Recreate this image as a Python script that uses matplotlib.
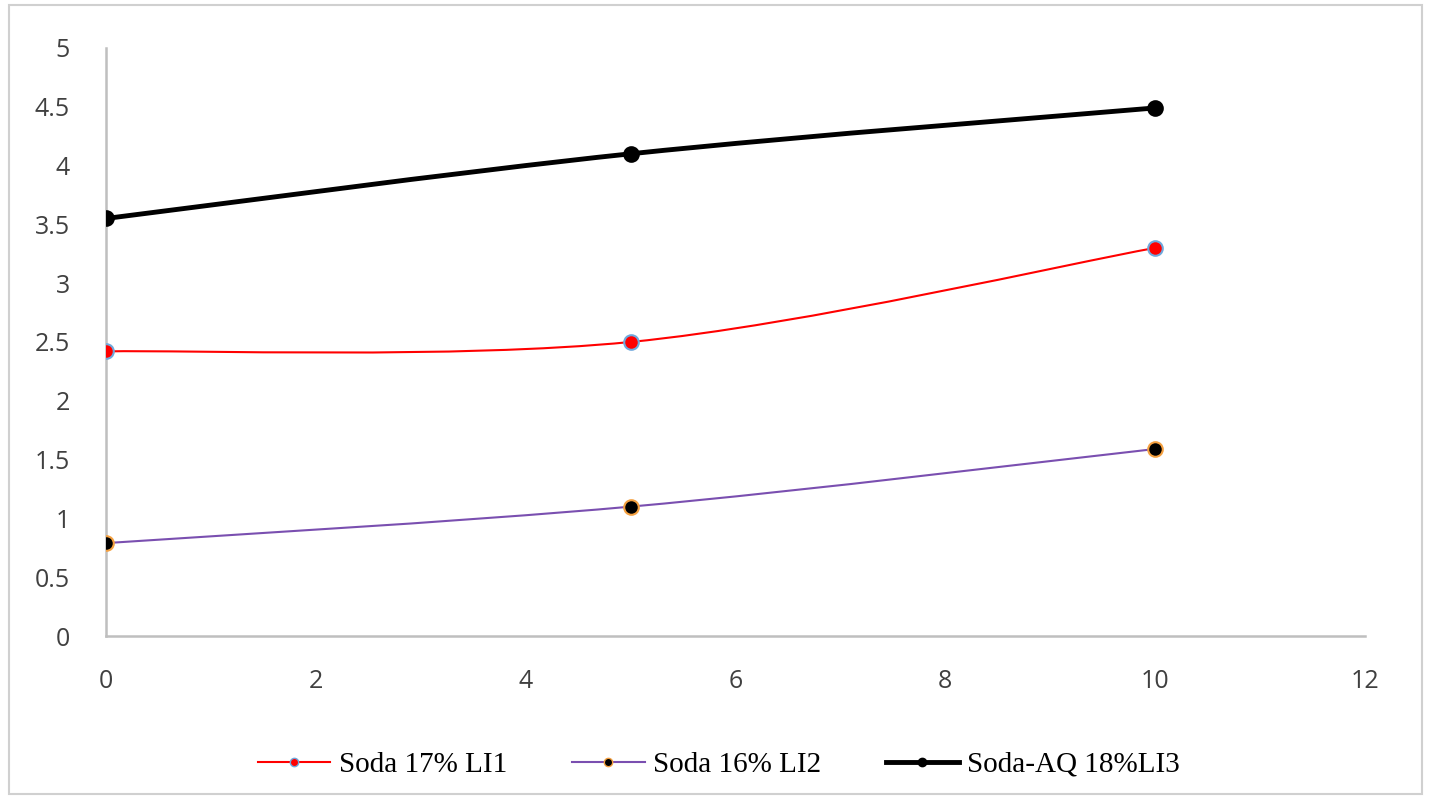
import numpy as np
import matplotlib
matplotlib.use("Agg")
import matplotlib.pyplot as plt
from matplotlib.path import Path
from matplotlib.patches import PathPatch, Rectangle
from matplotlib.lines import Line2D

x = [0, 5, 10]
soda17 = [2.42, 2.50, 3.30]
soda16 = [0.79, 1.10, 1.59]
sodaaq18 = [3.55, 4.10, 4.49]
labels = ["Soda 17% LI1", "Soda 16% LI2", "Soda-AQ 18%LI3"]
xticks = [0, 2, 4, 6, 8, 10, 12]
yticks = [0, 0.5, 1, 1.5, 2, 2.5, 3, 3.5, 4, 4.5, 5]
ytick_labels = ["0", "0.5", "1", "1.5", "2", "2.5", "3", "3.5", "4", "4.5", "5"]


def smooth_path(xs, ys):
    """Excel-style smoothed line as cubic Bezier path through the points."""
    pts = np.column_stack([xs, ys]).astype(float)
    n = len(pts)
    verts = [pts[0]]
    codes = [Path.MOVETO]
    for i in range(n - 1):
        p0 = pts[i - 1] if i > 0 else pts[i]
        p1 = pts[i]
        p2 = pts[i + 1]
        p3 = pts[i + 2] if i + 2 < n else pts[i + 1]
        c1 = p1 + (p2 - p0) / 6.0
        c2 = p2 - (p3 - p1) / 6.0
        verts += [c1, c2, p2]
        codes += [Path.CURVE4] * 3
    return Path(verts, codes)


fig = plt.figure(figsize=(14.29, 7.99), dpi=100)
ax = fig.add_axes([0.0742, 0.204, 0.881, 0.736])

series = [
    (soda17, "#FF0000", 1.5, "#FF0000", "#6FA8DC"),
    (soda16, "#7A4FB0", 1.5, "#000000", "#F4A040"),
    (sodaaq18, "#000000", 3.5, "#000000", "#000000"),
]

handles = []
for (ys, lc, lw, mfc, mec), lab in zip(series, labels):
    patch = PathPatch(smooth_path(x, ys), facecolor="none", edgecolor=lc,
                      linewidth=lw, zorder=2)
    ax.add_patch(patch)
    ax.plot(x, ys, linestyle="none", marker="o", markersize=10.5,
            markerfacecolor=mfc, markeredgecolor=mec, markeredgewidth=1.5,
            zorder=3)
    handles.append(Line2D([0], [0], color=lc, linewidth=lw, marker="o",
                          markersize=6, markerfacecolor=mfc,
                          markeredgecolor=mec, markeredgewidth=1.0, label=lab))

ax.set_xlim(0, 12)
ax.set_ylim(0, 5)
ax.set_xticks(xticks)
ax.set_xticklabels([str(t) for t in xticks])
ax.set_yticks(yticks)
ax.set_yticklabels(ytick_labels)

for s in ["top", "right"]:
    ax.spines[s].set_visible(False)
for s in ["left", "bottom"]:
    ax.spines[s].set_color("#BFBFBF")
    ax.spines[s].set_linewidth(1.8)
ax.spines["left"].set_zorder(1)
ax.spines["bottom"].set_zorder(1)

ax.tick_params(axis="both", length=0, labelsize=18, labelcolor="#404040",
               labelfontfamily="Open Sans")
ax.tick_params(axis="y", pad=26)
ax.tick_params(axis="x", pad=24)

leg = fig.legend(handles=handles, loc="center", bbox_to_anchor=(0.503, 0.043),
                 ncol=3, frameon=False, handlelength=2.5, columnspacing=2.2,
                 handletextpad=0.3,
                 prop={"family": "Liberation Serif", "size": 21})

fig.patches.append(Rectangle((0.006, 0.006), 0.989, 0.988,
                             transform=fig.transFigure, fill=False,
                             edgecolor="#D0D0D0", linewidth=1.5))

fig.savefig("out.png", dpi=100)
